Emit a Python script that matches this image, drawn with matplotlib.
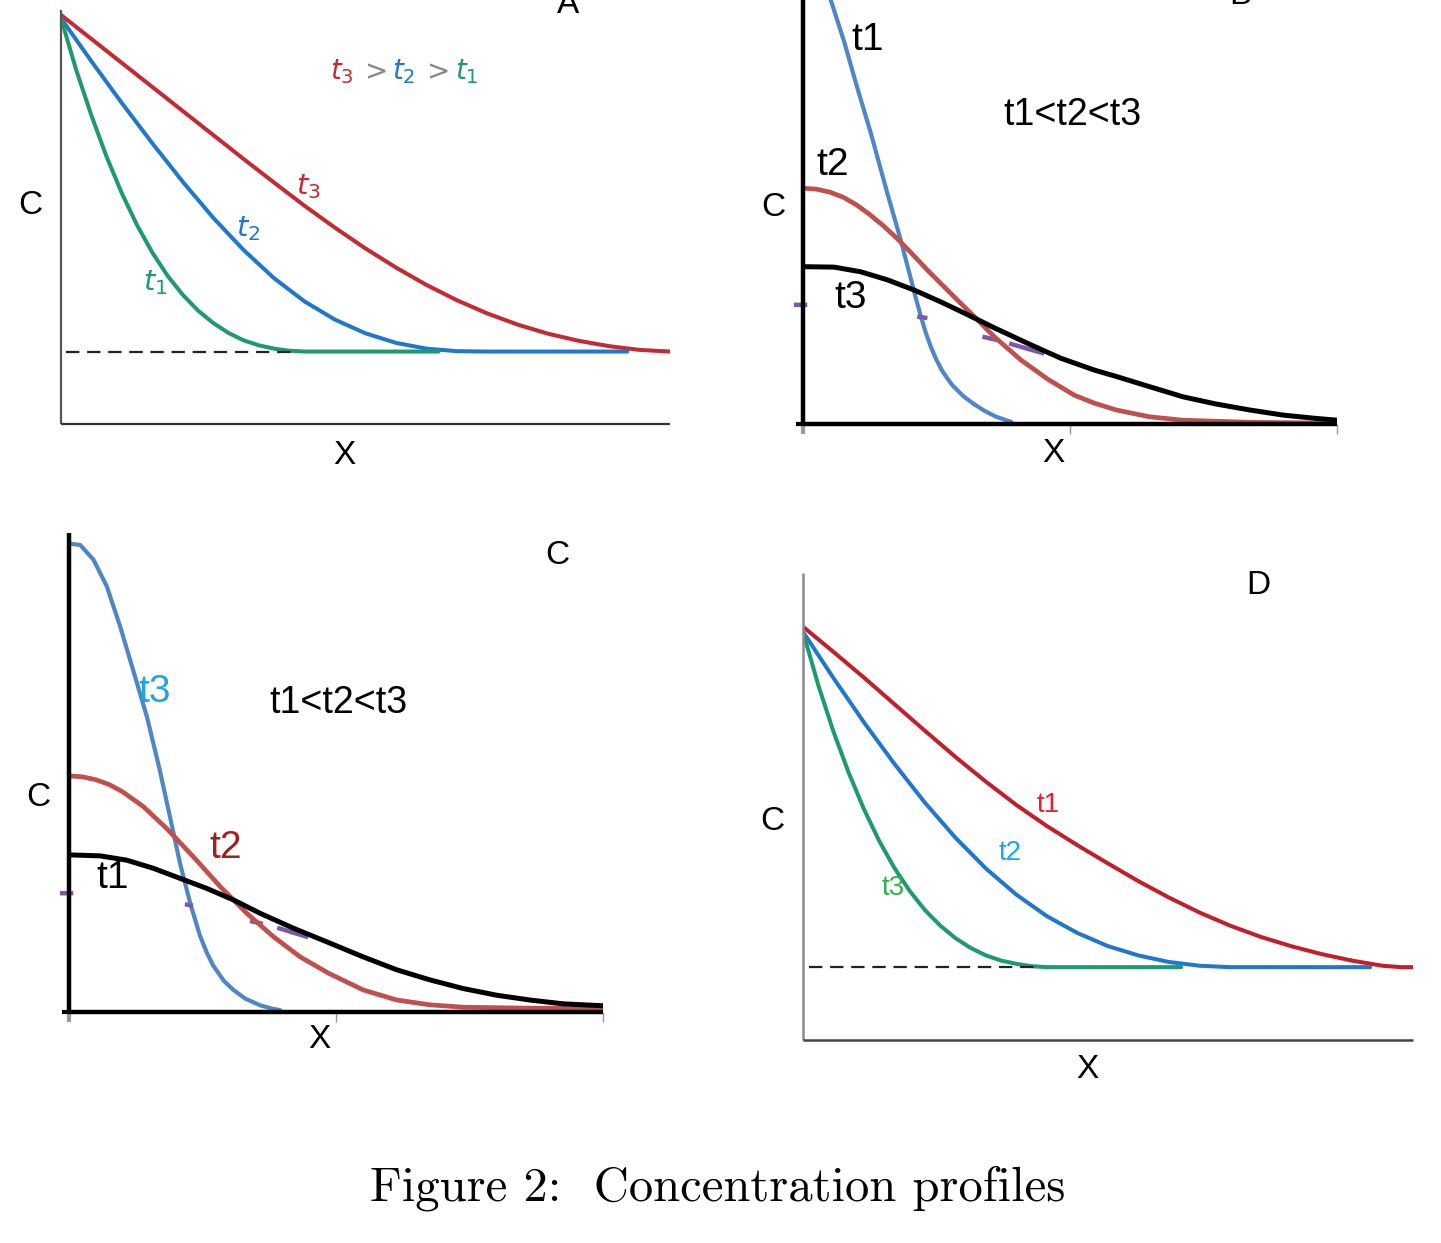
#!/usr/bin/env python3
# Figure 2: concentration profiles, four panels (A-D) redrawn from the scan

import matplotlib
matplotlib.use("Agg")
import matplotlib.pyplot as plt
from matplotlib import font_manager
from matplotlib.offsetbox import TextArea, HPacker, AnnotationBbox

W, H = 1441, 1243
nan = float("nan")

# -------------------- data --------------------
# x is normalised distance (0..1 over the x axis), C is normalised height (0..1 over the y axis)

# panel A
A_T3_X = [0.0, 0.05, 0.10, 0.15, 0.20, 0.25, 0.30, 0.35, 0.40, 0.45, 0.50, 0.55, 0.60,
          0.65, 0.70, 0.75, 0.80, 0.85, 0.90, 0.95, 1.0]
A_T3_C = [0.988, 0.930, 0.872, 0.814, 0.756, 0.698, 0.640, 0.583, 0.527, 0.474, 0.424, 0.378,
          0.336, 0.299, 0.267, 0.240, 0.218, 0.201, 0.188, 0.179, 0.175]
A_T2_X = [0.0, 0.05, 0.10, 0.15, 0.20, 0.25, 0.30, 0.35, 0.40, 0.45, 0.50, 0.55, 0.60,
          0.65, 0.70, 0.93]
A_T2_C = [0.980, 0.876, 0.775, 0.678, 0.585, 0.498, 0.420, 0.352, 0.296, 0.252, 0.219, 0.196,
          0.182, 0.176, 0.175, 0.175]
A_T1_X = [0.0, 0.025, 0.05, 0.075, 0.10, 0.125, 0.15, 0.175, 0.20, 0.225, 0.25, 0.275,
          0.30, 0.325, 0.35, 0.375, 0.40, 0.62]
A_T1_C = [0.980, 0.855, 0.745, 0.645, 0.557, 0.480, 0.414, 0.358, 0.312, 0.274, 0.244, 0.220,
          0.202, 0.190, 0.182, 0.177, 0.175, 0.175]
A_BASE_X = [0.009, 0.385]
A_BASE_C = [0.175, 0.175]

# panel B
B_T1_X = [0.0, 0.026, 0.052, 0.077, 0.10, 0.127, 0.158, 0.183, 0.19, 0.20, 0.21, 0.22,
          0.23, 0.24, 0.25, 0.26, 0.27, 0.28, 0.30, 0.32, 0.34, 0.36, 0.38, 0.39]
B_T1_C = [1.22, 1.13, 1.0, 0.902, 0.800, 0.686, 0.544, 0.434, 0.400, 0.352, 0.303, 0.257,
          0.215, 0.180, 0.151, 0.127, 0.108, 0.091, 0.066, 0.047, 0.031, 0.018, 0.009, 0.005]
B_T2_X = [0.0, 0.025, 0.05, 0.075, 0.10, 0.125, 0.15, 0.175, 0.20, 0.233, 0.283, 0.321,
          0.358, 0.408, 0.458, 0.508, 0.546, 0.587, 0.649, 0.711, 0.836, 1.0]
B_T2_C = [0.556, 0.554, 0.547, 0.535, 0.517, 0.494, 0.468, 0.439, 0.407, 0.363, 0.300, 0.253,
          0.206, 0.151, 0.106, 0.068, 0.049, 0.033, 0.017, 0.009, 0.004, 0.002]
B_T3_X = [0.0, 0.058, 0.108, 0.158, 0.208, 0.258, 0.308, 0.358, 0.421, 0.483, 0.546, 0.587,
          0.649, 0.712, 0.774, 0.837, 0.899, 0.962, 1.0]
B_T3_C = [0.371, 0.370, 0.359, 0.340, 0.316, 0.288, 0.258, 0.227, 0.190, 0.155, 0.127, 0.112,
          0.088, 0.064, 0.047, 0.033, 0.021, 0.013, 0.009]
B_PURPLE_X = [-0.017, 0.008, nan, 0.214, 0.233, nan, 0.336, 0.364, nan, 0.386, 0.452]
B_PURPLE_C = [0.281, 0.281, nan, 0.253, 0.250, nan, 0.206, 0.198, nan, 0.190, 0.166]

# panel C
C_T3_X = [0.0, 0.021, 0.046, 0.071, 0.096, 0.120, 0.146, 0.170, 0.189, 0.208, 0.227, 0.245,
          0.258, 0.270, 0.29, 0.308, 0.33, 0.358, 0.38, 0.395]
C_T3_C = [0.978, 0.975, 0.944, 0.888, 0.804, 0.714, 0.616, 0.505, 0.408, 0.310, 0.227, 0.160,
          0.124, 0.097, 0.065, 0.046, 0.028, 0.014, 0.007, 0.004]
C_T2_X = [0.0, 0.025, 0.05, 0.075, 0.10, 0.139, 0.183, 0.233, 0.283, 0.333, 0.383, 0.433,
          0.486, 0.551, 0.614, 0.676, 0.738, 0.863, 1.0]
C_T2_C = [0.493, 0.491, 0.485, 0.475, 0.460, 0.429, 0.383, 0.324, 0.262, 0.206, 0.157, 0.115,
          0.081, 0.046, 0.025, 0.015, 0.010, 0.008, 0.008]
C_T1_X = [0.0, 0.058, 0.108, 0.158, 0.208, 0.258, 0.308, 0.358, 0.420, 0.486, 0.551, 0.614,
          0.676, 0.738, 0.801, 0.863, 0.926, 1.0]
C_T1_C = [0.328, 0.326, 0.317, 0.300, 0.279, 0.258, 0.234, 0.206, 0.175, 0.145, 0.115, 0.088,
          0.067, 0.049, 0.035, 0.025, 0.017, 0.013]
C_PURPLE_X = [-0.017, 0.008, nan, 0.217, 0.232, nan, 0.339, 0.363, nan, 0.390, 0.448]
C_PURPLE_C = [0.248, 0.248, nan, 0.225, 0.222, nan, 0.190, 0.184, nan, 0.176, 0.156]

# panel D
D_T1_X = [0.0, 0.05, 0.10, 0.15, 0.20, 0.25, 0.30, 0.35, 0.40, 0.45, 0.50, 0.55, 0.60,
          0.65, 0.70, 0.75, 0.80, 0.85, 0.90, 0.95, 0.98, 1.0]
D_T1_C = [0.885, 0.831, 0.776, 0.719, 0.662, 0.606, 0.553, 0.503, 0.458, 0.417, 0.378, 0.340,
          0.305, 0.273, 0.245, 0.221, 0.201, 0.184, 0.170, 0.159, 0.156, 0.156]
D_T2_X = [0.0, 0.05, 0.10, 0.15, 0.20, 0.25, 0.30, 0.35, 0.40, 0.45, 0.50, 0.55, 0.60,
          0.65, 0.70, 0.93]
D_T2_C = [0.874, 0.775, 0.680, 0.591, 0.508, 0.433, 0.367, 0.311, 0.265, 0.229, 0.201, 0.181,
          0.167, 0.159, 0.156, 0.156]
D_T3_X = [0.0, 0.025, 0.05, 0.075, 0.10, 0.125, 0.15, 0.175, 0.20, 0.225, 0.25, 0.275,
          0.30, 0.325, 0.35, 0.375, 0.40, 0.62]
D_T3_C = [0.874, 0.760, 0.660, 0.572, 0.494, 0.426, 0.368, 0.319, 0.278, 0.245, 0.218, 0.197,
          0.181, 0.170, 0.163, 0.158, 0.156, 0.156]
D_BASE_X = [0.01, 0.383]
D_BASE_C = [0.156, 0.156]
# --------------------------------------------------------------------

names = {f.name for f in font_manager.fontManager.ttflist}
SANS = "Liberation Sans"
NARROW = "Liberation Sans Narrow" if "Liberation Sans Narrow" in names else SANS
SERIF = "cmr10"
plt.rcParams["mathtext.fontset"] = "dejavusans"
plt.rcParams["lines.solid_joinstyle"] = "round"
plt.rcParams["lines.solid_capstyle"] = "round"

RED, BLUE, GREEN = "#c42a33", "#1f78cc", "#1f9a6e"
XL_BLUE, XL_RED = "#4f86c6", "#c0504d"


def fx(px):
    return px / W


def fy(py):
    return 1 - py / H


def make_axes(fig, left, top, right, bottom, left_color, bottom_color, spine_w):
    ax = fig.add_axes([fx(left), fy(bottom), fx(right - left), (bottom - top) / H])
    ax.set_xlim(0, 1)
    ax.set_ylim(0, 1)
    for s in ("top", "right"):
        ax.spines[s].set_visible(False)
    ax.spines["left"].set_color(left_color)
    ax.spines["bottom"].set_color(bottom_color)
    for s in ("left", "bottom"):
        ax.spines[s].set_linewidth(spine_w)
        ax.spines[s].set_capstyle("butt")
    ax.set_xticks([])
    ax.set_yticks([])
    ax.patch.set_alpha(0)
    return ax


def excel_ticks(ax):
    # small marks left by the spreadsheet axes
    ax.set_xticks([0, 0.5, 1.0], labels=["", "", ""])
    ax.set_yticks([0], labels=[""])
    ax.tick_params(axis="x", direction="out", length=7, width=1, color="#999999")
    ax.tick_params(axis="y", direction="out", length=5, width=3, color="black")
    ax.xaxis.get_major_ticks()[0].tick1line.set_color("black")
    ax.xaxis.get_major_ticks()[0].tick1line.set_markeredgewidth(3)


def label(fig, px, py, s, size=24, color="black", family=SANS, **kw):
    fig.text(fx(px), fy(py), s, ha="center", va="center", fontsize=size,
             color=color, family=family, **kw)


fig = plt.figure(figsize=(W / 100, H / 100), dpi=100)

# ---- A ----
ax = make_axes(fig, 61, 10, 670, 424, "#555555", "#333333", 1.6)
ax.plot(A_T3_X, A_T3_C, color=RED, lw=2.9)
ax.plot(A_T2_X, A_T2_C, color=BLUE, lw=2.9)
ax.plot(A_T1_X, A_T1_C, color=GREEN, lw=2.9)
ax.plot(A_BASE_X, A_BASE_C, color="#222222", lw=1.6, dashes=(6, 3.5), solid_capstyle="butt")
fig.text(fx(568), fy(13), "A", ha="center", va="baseline", fontsize=24, family=SANS)
label(fig, 30, 205, "C")
label(fig, 344, 455, "X")
label(fig, 308, 187, r"$t_3$", size=21, color=RED)
label(fig, 248, 229, r"$t_2$", size=21, color=BLUE)
label(fig, 155, 283, r"$t_1$", size=21, color=GREEN)
parts = [(r"$t_3$", RED), (r"$>$", "#888888"), (r"$t_2$", BLUE),
         (r"$>$", "#888888"), (r"$t_1$", GREEN)]
box = HPacker(children=[TextArea(s, textprops=dict(color=c, fontsize=20)) for s, c in parts],
              sep=4, pad=0, align="baseline")
fig.add_artist(AnnotationBbox(box, (fx(404), fy(72)), xycoords="figure fraction",
                              frameon=False))

# ---- B ----
ax = make_axes(fig, 803, 0, 1337, 424, "black", "black", 3.2)
excel_ticks(ax)
ax.plot(B_T1_X, B_T1_C, color=XL_BLUE, lw=3.0)
ax.plot(B_PURPLE_X, B_PURPLE_C, color="#7a5aa8", lw=3.2, solid_capstyle="butt", clip_on=False)
ax.plot(B_T2_X, B_T2_C, color=XL_RED, lw=3.4)
ax.plot(B_T3_X, B_T3_C, color="black", lw=3.6)
fig.text(fx(1240), fy(4), "B", ha="center", va="baseline", fontsize=24, family=SANS)
label(fig, 868, 40, "t1", size=28, family=NARROW)
label(fig, 833, 165, "t2", size=28, family=NARROW)
label(fig, 851, 298, "t3", size=28, family=NARROW)
label(fig, 1072, 115, "t1<t2<t3", size=27, family=NARROW)
label(fig, 773, 208, "C")
label(fig, 1053, 453, "X")

# ---- C ----
ax = make_axes(fig, 69, 533, 603, 1012, "black", "black", 3.2)
excel_ticks(ax)
ax.plot(C_T3_X, C_T3_C, color=XL_BLUE, lw=3.0)
ax.plot(C_PURPLE_X, C_PURPLE_C, color="#7a5aa8", lw=3.2, solid_capstyle="butt", clip_on=False)
ax.plot(C_T2_X, C_T2_C, color=XL_RED, lw=3.4)
ax.plot(C_T1_X, C_T1_C, color="black", lw=3.6)
label(fig, 557, 555, "C")
label(fig, 155, 692, "t3", size=28, color="#1ea6e0", family=NARROW)
label(fig, 338, 703, "t1<t2<t3", size=27, family=NARROW)
label(fig, 38, 797, "C")
label(fig, 226, 848, "t2", size=28, color="#a51d1d", family=NARROW)
label(fig, 113, 878, "t1", size=28, family=NARROW)
label(fig, 319, 1040, "X")

# ---- D ----
ax = make_axes(fig, 803, 573, 1413, 1040, "#8a8a8a", "#444444", 1.8)
ax.plot(D_T1_X, D_T1_C, color="#c0202c", lw=2.9)
ax.plot(D_T2_X, D_T2_C, color=BLUE, lw=2.9)
ax.plot(D_T3_X, D_T3_C, color=GREEN, lw=2.9)
ax.plot(D_BASE_X, D_BASE_C, color="#222222", lw=1.6, dashes=(6, 3.5), solid_capstyle="butt")
label(fig, 1258, 585, "D")
label(fig, 772, 822, "C")
label(fig, 1087, 1070, "X")
label(fig, 1048, 805, "t1", size=20, color="#e8202e", family=NARROW)
label(fig, 1010, 853, "t2", size=20, color="#1ea8e8", family=NARROW)
label(fig, 893, 888, "t3", size=20, color="#2eb04e", family=NARROW)

# caption
fig.text(fx(718), fy(1188), "Figure 2:  Concentration profiles",
         ha="center", va="center", fontsize=35, family=SERIF)

fig.savefig("out.png", dpi=100)
